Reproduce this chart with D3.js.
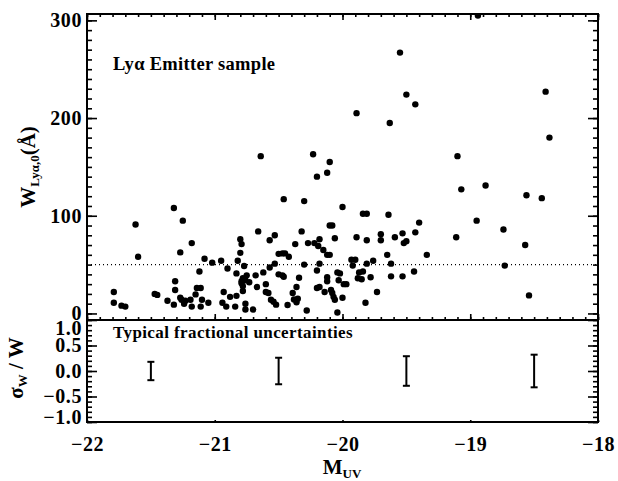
<!DOCTYPE html>
<html>
<head>
<meta charset="utf-8">
<script src="https://cdn.jsdelivr.net/npm/d3@7"></script>
<style>
  body { margin: 0; background: #fff; }
  text { font-family: "Liberation Serif", "DejaVu Serif", serif; fill: #000; }
</style>
</head>
<body>
<div id="chart"></div>
<script>
// Absolute UV magnitude of each emitter
const muv = [
  -18.94, -19.55, -19.50, -19.43, -19.89, -19.63, -18.41, -18.38, -20.64, -20.23,
  -20.20, -20.10, -20.12, -19.10, -19.07, -18.88, -18.56, -18.44, -20.46, -20.30,
  -20.00, -21.32, -21.25, -21.62, -19.84, -19.81, -19.64, -19.40, -18.95, -18.74,
  -20.10, -20.08, -20.66, -20.53, -20.32, -20.80, -20.57, -19.89, -19.70, -19.70,
  -19.59, -19.53, -19.43, -19.11, -20.18, -20.06, -19.81, -19.50, -19.52, -19.65,
  -19.34, -19.62, -19.76, -19.81, -19.93, -19.90, -19.92, -20.30, -20.18, -20.27,
  -20.22, -20.19, -20.15, -20.12, -20.10, -20.20, -20.12, -20.12, -20.04, -20.02,
  -20.03, -19.99, -19.97, -19.87, -19.84, -19.88, -19.85, -19.78, -19.62, -19.53,
  -19.44, -19.73, -19.82, -20.20, -20.18, -20.14, -20.09, -20.08, -20.07, -20.06,
  -20.00, -20.28, -20.04, -18.57, -18.54, -18.73, -20.47, -20.45, -20.42, -20.37,
  -20.47, -20.46, -20.39, -20.36, -20.38, -20.35, -20.36, -20.43, -20.34, -21.60,
  -21.18, -21.27, -20.79, -20.80, -20.50, -20.53, -21.08, -21.02, -20.95, -21.12,
  -20.90, -20.82, -20.77, -20.57, -20.83, -20.75, -20.62, -20.50, -20.68, -20.78,
  -20.79, -20.76, -20.79, -20.73, -20.78, -20.78, -21.31, -21.31, -20.67, -20.60,
  -20.60, -20.58, -20.56, -20.54, -20.52, -21.79, -21.79, -21.73, -21.70, -21.47,
  -21.45, -21.37, -21.32, -21.27, -21.26, -21.23, -21.24, -21.19, -21.18, -21.15,
  -21.11, -21.14, -21.10, -21.11, -21.05, -20.94, -20.93, -20.91, -20.88, -20.84,
  -20.83, -20.76, -20.76, -20.70
];
// Rest-frame Lya equivalent width (Angstrom), same order
const ewLya = [
  305, 267, 224, 214, 205, 195, 227, 180, 161, 163,
  140, 155, 144, 161, 127, 131, 121, 118, 117, 115,
  109, 108, 95, 91, 102, 102, 101, 93, 95, 86,
  90, 90, 84, 80, 84, 76, 75, 78, 81, 75,
  78, 82, 83, 78, 76, 77, 75, 74, 72, 60,
  60, 51, 54, 51, 55, 55, 49, 50, 51, 72,
  72, 69, 65, 60, 60, 44, 37, 33, 42, 41,
  34, 30, 30, 42, 43, 36, 35, 37, 38, 38,
  43, 22, 11, 26, 27, 22, 24, 21, 17, 14,
  16, 3, 1, 70, 18.5, 49, 61.5, 61.5, 58, 71,
  39, 37.6, 21, 27, 14.4, 15, 11.4, 8.6, 36.5, 58,
  72, 62.5, 71, 62, 61, 51, 56, 52, 54, 43,
  46, 54, 48.5, 47, 41, 39, 42, 40, 39, 36,
  33, 34, 31, 32, 28, 23, 33, 24, 27, 30,
  22, 21, 14, 12, 9, 22, 11, 8, 7, 20,
  19, 13, 9, 16, 14, 13, 10, 14, 7, 19.5,
  26, 26, 14, 7, 11, 11, 22, 7, 17, 7,
  18, 10, 4, 4
];

// Typical fractional uncertainties (lower panel)
const errM = [-21.5, -20.5, -19.5, -18.5];
const errFrac = [0.18, 0.26, 0.29, 0.32];

const cutW = 50;  // dotted reference line

const xTicks = [-22, -21, -20, -19, -18];
const wTicks = [0, 100, 200, 300];
const sTicks = [-1.0, -0.5, 0.0, 0.5, 1.0];

const width = 618;
const height = 481;
const left = 87, right = 598;
const topY = 14, midY = 320, botY = 422;

const svg = d3.select("#chart").append("svg")
    .attr("width", width)
    .attr("height", height);

const x = d3.scaleLinear().domain([-22, -18]).range([left, right]);
const yW = d3.scaleLinear().domain([-6.7, 306.5]).range([midY, topY]);
const yS = d3.scaleLinear().domain([-1.0, 1.0]).range([botY, midY]);

const xMinor = d3.range(-22, -17.99, 0.1);
const wMinor = d3.range(0, 301, 10);
const sMinor = d3.range(-1.0, 1.001, 0.1);

// helper: draw an axis with inward ticks and no domain line
function drawAxis(axis, tx, ty, cls) {
  const g = svg.append("g")
    .attr("class", cls)
    .attr("transform", "translate(" + tx + "," + ty + ")")
    .call(axis);
  g.select(".domain").remove();
  g.selectAll(".tick line").attr("stroke", "#000").attr("stroke-width", 1.6);
  g.selectAll("text").attr("font-size", 20).attr("font-weight", "bold")
    .attr("letter-spacing", 0.6);
  return g;
}

// ---- top panel ----
drawAxis(d3.axisLeft(yW).tickValues(wMinor).tickSize(-5).tickFormat(""), left, 0, "minor");
drawAxis(d3.axisLeft(yW).tickValues(wTicks).tickSize(-10).tickPadding(5).tickFormat(d3.format("d")), left, 0, "wLeft");
drawAxis(d3.axisRight(yW).tickValues(wMinor).tickSize(-5).tickFormat(""), right, 0, "minor");
drawAxis(d3.axisRight(yW).tickValues(wTicks).tickSize(-10).tickFormat(""), right, 0, "major");
drawAxis(d3.axisTop(x).tickValues(xMinor).tickSize(-3).tickFormat(""), 0, topY, "minor");
drawAxis(d3.axisTop(x).tickValues(xTicks).tickSize(-6).tickFormat(""), 0, topY, "major");
drawAxis(d3.axisBottom(x).tickValues(xMinor).tickSize(-3).tickFormat(""), 0, midY, "minor");
drawAxis(d3.axisBottom(x).tickValues(xTicks).tickSize(-6).tickFormat(""), 0, midY, "major");

// ---- bottom panel ----
drawAxis(d3.axisLeft(yS).tickValues(sMinor).tickSize(-5).tickFormat(""), left, 0, "minor");
const sLeft = drawAxis(d3.axisLeft(yS).tickValues(sTicks).tickSize(-10).tickPadding(5).tickFormat(d3.format(".1f")), left, 0, "sLeft");
drawAxis(d3.axisRight(yS).tickValues(sMinor).tickSize(-5).tickFormat(""), right, 0, "minor");
drawAxis(d3.axisRight(yS).tickValues(sTicks).tickSize(-10).tickFormat(""), right, 0, "major");
drawAxis(d3.axisBottom(x).tickValues(xMinor).tickSize(-1).tickFormat(""), 0, botY, "minor");
drawAxis(d3.axisBottom(x).tickValues(xTicks).tickSize(-2).tickPadding(15).tickFormat(d3.format("d")), 0, botY, "xBottom");

// keep the end labels of the lower panel inside it
sLeft.selectAll(".tick text").attr("dy", d => d === 1 ? "0.72em" : d === -1 ? "0.05em" : "0.32em");

// frames
svg.append("rect")
  .attr("x", left).attr("y", topY)
  .attr("width", right - left).attr("height", midY - topY)
  .attr("fill", "none").attr("stroke", "#000").attr("stroke-width", 2);
svg.append("rect")
  .attr("x", left).attr("y", midY)
  .attr("width", right - left).attr("height", botY - midY)
  .attr("fill", "none").attr("stroke", "#000").attr("stroke-width", 2);

// dotted W = 50 line
svg.append("line")
  .attr("x1", x(-22)).attr("x2", x(-18))
  .attr("y1", yW(cutW)).attr("y2", yW(cutW))
  .attr("stroke", "#000").attr("stroke-width", 1.2)
  .attr("stroke-dasharray", "1,3");

// points
svg.append("clipPath").attr("id", "clipTop")
  .append("rect")
  .attr("x", left).attr("y", topY)
  .attr("width", right - left).attr("height", midY - topY);

const pts = muv.map((m, i) => ({ m: m, w: ewLya[i] }));
svg.append("g")
  .attr("clip-path", "url(#clipTop)")
  .selectAll("circle")
  .data(pts)
  .enter()
  .append("circle")
  .attr("cx", d => x(d.m))
  .attr("cy", d => yW(d.w))
  .attr("r", 3.2)
  .attr("fill", "#000");

// error bars
const errs = errM.map((m, i) => ({ m: m, e: errFrac[i] }));
const eg = svg.append("g").selectAll("g")
  .data(errs)
  .enter()
  .append("g")
  .attr("stroke", "#000")
  .attr("stroke-width", 2);
eg.append("line")
  .attr("x1", d => x(d.m)).attr("x2", d => x(d.m))
  .attr("y1", d => yS(-d.e)).attr("y2", d => yS(d.e));
eg.append("line")
  .attr("x1", d => x(d.m) - 3.5).attr("x2", d => x(d.m) + 3.5)
  .attr("y1", d => yS(d.e)).attr("y2", d => yS(d.e));
eg.append("line")
  .attr("x1", d => x(d.m) - 3.5).attr("x2", d => x(d.m) + 3.5)
  .attr("y1", d => yS(-d.e)).attr("y2", d => yS(-d.e));

// annotations
svg.append("text")
  .attr("x", 113).attr("y", 70)
  .attr("font-size", 18.5).attr("font-weight", "bold")
  .attr("letter-spacing", 0.3)
  .text("Lyα Emitter sample");

svg.append("text")
  .attr("x", 113).attr("y", 338)
  .attr("font-size", 17).attr("font-weight", "bold")
  .attr("letter-spacing", 0.4)
  .text("Typical fractional uncertainties");

// axis titles
const yt = svg.append("text")
  .attr("transform", "translate(35,167) rotate(-90)")
  .attr("text-anchor", "middle")
  .attr("font-size", 21).attr("font-weight", "bold");
yt.append("tspan").text("W");
yt.append("tspan").attr("font-size", 13).attr("dy", 4).text("Lyα,0");
yt.append("tspan").attr("dy", -4).text("(Å)");

const st = svg.append("text")
  .attr("transform", "translate(23,368) rotate(-90)")
  .attr("text-anchor", "middle")
  .attr("font-size", 21).attr("font-weight", "bold");
st.append("tspan").text("σ");
st.append("tspan").attr("font-size", 13).attr("dy", 4).text("W");
st.append("tspan").attr("dy", -4).text(" / W");

const xt = svg.append("text")
  .attr("x", 342).attr("y", 474)
  .attr("text-anchor", "middle")
  .attr("font-size", 21).attr("font-weight", "bold");
xt.append("tspan").text("M");
xt.append("tspan").attr("font-size", 13).attr("dy", 4).text("UV");
</script>
</body>
</html>
